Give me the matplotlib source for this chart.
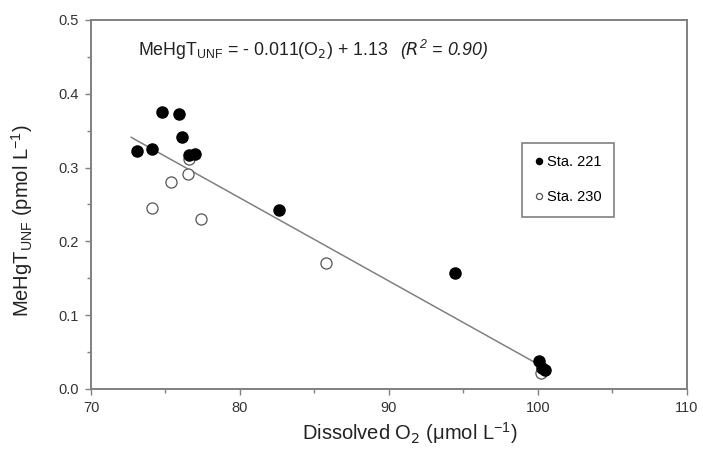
import numpy as np
import matplotlib.pyplot as plt
from matplotlib.ticker import MultipleLocator

plt.rcParams['font.family'] = ['Liberation Sans', 'DejaVu Sans']

# Sta. 221 (filled)
o2_221 = [74.8, 75.9, 76.1, 73.1, 74.1, 76.6, 77.0, 82.6, 94.4, 100.05, 100.3, 100.5]
mehg_221 = [0.375, 0.373, 0.341, 0.322, 0.325, 0.317, 0.319, 0.242, 0.157, 0.038, 0.029, 0.026]
# Sta. 230 (open)
o2_230 = [76.6, 76.5, 75.4, 74.1, 77.4, 85.8, 100.2]
mehg_230 = [0.311, 0.291, 0.280, 0.245, 0.231, 0.171, 0.022]
# regression line as drawn
fit_x = [72.7, 99.7]
fit_y = [0.341, 0.037]

fig = plt.figure(figsize=(7.03, 4.54), dpi=100)
ax = fig.add_axes([0.1294, 0.1432, 0.8478, 0.8128])

ax.plot(fit_x, fit_y, color='#808080', lw=1.1, zorder=1)
ax.plot(o2_221, mehg_221, 'o', ms=8, mfc='black', mec='black', label='Sta. 221', zorder=3)
ax.plot(o2_230, mehg_230, 'o', ms=8, mfc='white', mec='#555555', mew=0.9, label='Sta. 230', zorder=2)

ax.set_xlim(70, 110)
ax.set_ylim(0, 0.5)
ax.xaxis.set_major_locator(MultipleLocator(10))
ax.xaxis.set_minor_locator(MultipleLocator(5))
ax.yaxis.set_major_locator(MultipleLocator(0.1))
ax.yaxis.set_minor_locator(MultipleLocator(0.05))
ax.yaxis.set_major_formatter(plt.FormatStrFormatter('%.1f'))

for s in ax.spines.values():
    s.set_color('#808080')
    s.set_linewidth(1.4)
ax.tick_params(which='both', direction='out', color='#808080', labelcolor='#333333', labelsize=10.5)
ax.tick_params(which='major', length=4, width=1, pad=5)
ax.tick_params(which='minor', length=3, width=1)
ax.tick_params(top=False, right=False)

ax.set_xlabel('Dissolved O$_2$ (\u03bcmol L$^{\\mathregular{-1}}$)', fontsize=14.5, color='#222222')
ax.set_ylabel('MeHgT$_{\\mathregular{UNF}}$ (pmol L$^{\\mathregular{-1}}$)', fontsize=14.5, color='#222222')
ax.xaxis.set_label_coords(0.535, -0.085)
ax.yaxis.set_label_coords(-0.094, 0.455)

eq = ax.text(73.15, 0.459, 'MeHgT$_{\\mathregular{UNF}}$ = - 0.011(O$_2$) + 1.13',
             fontsize=12.8, color='#222222', va='center')
ax.annotate('($\\mathit{R}^{\\mathregular{2}}$ = 0.90)', xy=(1, 0.5), xycoords=eq,
            xytext=(12, 0), textcoords='offset pixels', fontsize=12.8, style='italic',
            color='#222222', va='center')

leg = ax.legend(loc='upper left', bbox_to_anchor=(0.724, 0.6675), fontsize=10.5, markerscale=0.55,
                handlelength=0.5, handletextpad=0.3, labelspacing=1.45, borderpad=0.85,
                borderaxespad=0, fancybox=False, framealpha=1)
leg.get_frame().set_edgecolor('#808080')
leg.get_frame().set_linewidth(1.2)

fig.savefig('out.png', dpi=100)
